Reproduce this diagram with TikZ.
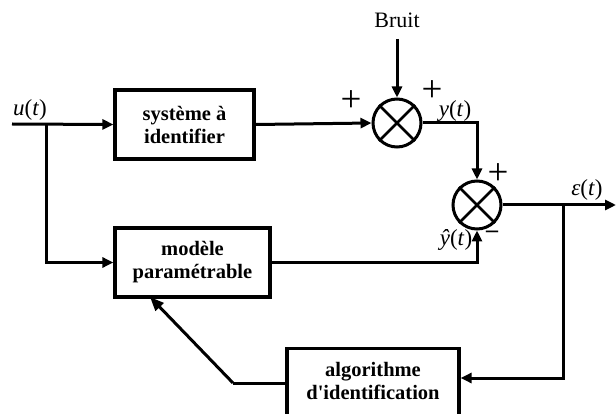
\documentclass[tikz,border=0pt]{standalone}
\usepackage{fontspec}
\setmainfont{Liberation Serif}
\newfontfamily\plainquote{Liberation Serif}[Ligatures=TeXOff]
\usetikzlibrary{arrows.meta,shapes.geometric}
\begin{document}
\begin{tikzpicture}[x=1pt,y=-1pt,
  wire/.style={line width=3pt},
  arr/.style={wire,-{Triangle[length=11pt,width=10pt]}},
  blockbox/.style={draw,line width=3.2pt,inner sep=0pt,align=center,
    font=\bfseries\fontsize{20.5}{23}\selectfont},
  summer/.style={draw,circle,line width=3pt,minimum size=48pt,inner sep=0pt},
  sig/.style={font=\fontsize{23}{23}\selectfont,inner sep=0pt},
  sign/.style={font=\fontsize{37}{37}\selectfont,inner sep=0pt}]
\useasboundingbox (0,0) rectangle (616,414);
\begin{scope}
\clip (0,0) rectangle (616,414);

% blocks
\node[blockbox,minimum width=139pt,minimum height=69pt] (sys) at (184.5,124.5)
  {système à\\identifier};
\node[blockbox,minimum width=155pt,minimum height=69pt] (model) at (192.5,262.5)
  {modèle\\paramétrable};
\node[draw,line width=3.2pt,minimum width=172pt,minimum height=80pt,anchor=north,inner sep=0pt]
  (algo) at (373,347) {};
\node[align=center,inner sep=0pt,font=\plainquote\bfseries\fontsize{20.5}{23}\selectfont]
  (algotext) at (373,381) {algorithme\\d'identification};

% summing junctions
\node[summer] (sum1) at (397,123) {};
\node[summer] (sum2) at (477,205) {};
\foreach \s in {sum1,sum2}{
  \draw[line width=2.6pt] (\s.north west) -- (\s.south east);
  \draw[line width=2.6pt] (\s.north east) -- (\s.south west);
}

% labels
\node[font=\fontsize{22}{22}\selectfont,inner sep=0pt] (bruit) at (397,20) {Bruit};
\node[sig] (ulab) at (30,110) {\textit{u}(\textit{t})};
\node[sig] (ylab) at (455,111) {\textit{y}(\textit{t})};
\node[sig] (elab) at (587,190) {\textit{ε}(\textit{t})};
\node[sig] (yhlab) at (456,240) {\textit{ŷ}(\textit{t})};
\node[sign] (p1) at (351,101) {+};
\node[sign] (p2) at (432,91) {+};
\node[sign] (p3) at (498,174) {+};
\node[font=\bfseries\fontsize{24}{24}\selectfont,inner sep=0pt] (m1) at (492,234) {–};

% points on the wires
\coordinate (in) at (12,124);
\coordinate (j1) at (46,124);
\coordinate (nz) at (397,39);
\coordinate (out) at (616,205);
\coordinate (j2) at (563,205);
\coordinate (j2b) at (563,378);
\coordinate (bend) at (233,383);
\coordinate (mt) at (150,297);

% connectors
\draw[arr] (in) -- (sys.west);
\draw[arr] (j1) |- (model.west);
\draw[arr] (sys.east) -- (sum1.west);
\draw[arr] (nz) -- (sum1.north);
\draw[arr] (sum1.east) -| (sum2.north);
\draw[arr] (sum2.east) -- (out);
\draw[arr] (model.east) -| (sum2.south);
\draw[arr] (j2) -- (j2b) -- (j2b -| algo.east);
\draw[wire] (algo.west |- bend) -- (bend);
\draw[arr,-{Triangle[length=14pt,width=11pt]}] (bend) -- (mt);
\end{scope}
\end{tikzpicture}
\end{document}
